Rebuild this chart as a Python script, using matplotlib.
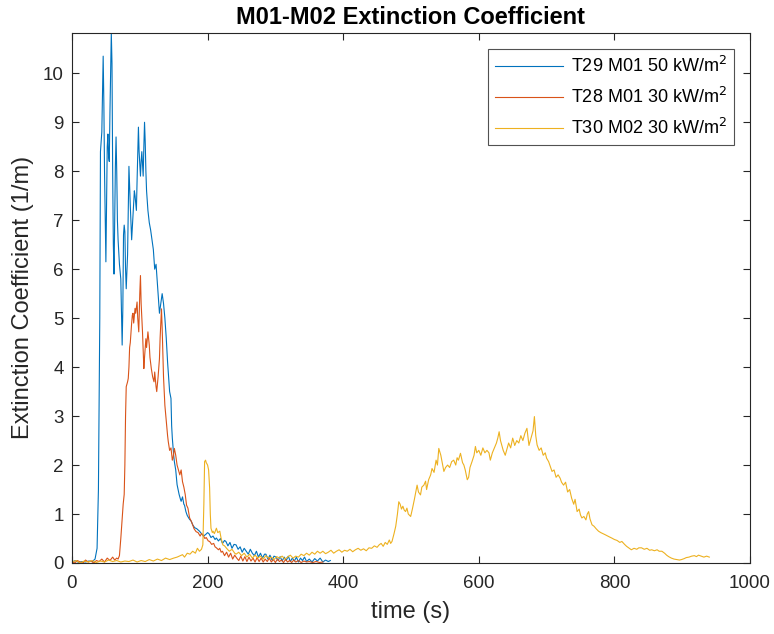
import matplotlib
matplotlib.use("Agg")
import matplotlib.pyplot as plt

plt.rcParams['font.family'] = ['Liberation Sans', 'DejaVu Sans']

# T29 M01 50 kW/m2
t29_time = [0, 5, 10, 15, 20, 25, 30, 34, 37, 39, 41, 42, 43, 44, 46, 47, 48, 49, 50, 51,
            52, 53, 54, 55, 56, 58, 59, 60, 61, 62, 63, 64, 65, 66, 67, 68, 70, 72, 74, 75,
            76, 77, 78, 79, 80, 82, 84, 86, 88, 90, 92, 93, 95, 96, 98, 99, 101, 102, 103, 105,
            106, 107, 108, 109, 110, 112, 114, 116, 118, 120, 122, 124, 126, 127, 129, 131, 133, 135, 137, 139,
            141, 144, 146, 147, 148, 150, 151, 153, 155, 156, 158, 160, 161, 163, 165, 166, 168, 170, 173, 176,
            178, 181, 184, 188, 191, 194, 197, 200, 202, 205, 208, 211, 213, 216, 219, 222, 225, 227, 230, 233,
            236, 239, 242, 245, 248, 251, 254, 257, 260, 263, 266, 269, 272, 275, 278, 281, 284, 286, 289, 292,
            295, 298, 301, 304, 307, 310, 313, 316, 319, 322, 325, 328, 331, 334, 337, 340, 343, 346, 350, 354,
            358, 362, 366, 370, 374, 378, 381]
t29_ext = [0.02, 0.05, 0.01, 0.03, 0.02, 0.04, 0.03, 0.08, 0.3, 1.5, 5.0, 8.4, 8.6, 8.8, 10.35, 9.4, 8.0, 7.0, 6.15, 7.4,
           8.5, 8.76, 8.3, 8.2, 9.2, 10.83, 10.2, 8.0, 6.5, 5.9, 7.0, 8.1, 8.7, 8.0, 7.0, 6.6, 6.1, 5.8, 4.45, 5.2,
           6.7, 6.9, 6.76, 6.0, 5.6, 6.3, 8.1, 7.3, 6.6, 7.1, 7.6, 7.5, 7.2, 7.8, 8.9, 8.4, 7.9, 8.2, 8.4, 7.9,
           8.5, 9.0, 8.6, 8.0, 7.6, 7.2, 6.95, 6.8, 6.6, 6.4, 6.0, 6.1, 5.7, 5.5, 5.1, 5.3, 5.5, 5.3, 5.0, 4.6,
           4.1, 3.5, 3.36, 2.8, 2.55, 2.2, 2.07, 1.9, 1.6, 1.53, 1.4, 1.3, 1.26, 1.35, 1.2, 1.18, 1.05, 0.97, 0.9, 0.85,
           0.78, 0.72, 0.7, 0.65, 0.6, 0.55, 0.58, 0.62, 0.6, 0.52, 0.55, 0.48, 0.51, 0.45, 0.5, 0.4, 0.46, 0.44, 0.35, 0.42,
           0.3, 0.38, 0.37, 0.28, 0.33, 0.22, 0.3, 0.24, 0.18, 0.28, 0.2, 0.15, 0.24, 0.12, 0.2, 0.1, 0.18, 0.18, 0.08, 0.16,
           0.06, 0.14, 0.12, 0.05, 0.13, 0.04, 0.12, 0.05, 0.14, 0.03, 0.1, 0.04, 0.12, 0.02, 0.1, 0.05, 0.12, 0.03, 0.08, 0.02,
           0.09, 0.04, 0.1, 0.02, 0.06, 0.03, 0.05]

# T28 M01 30 kW/m2
t28_time = [0, 4, 8, 12, 16, 20, 24, 28, 32, 36, 40, 44, 48, 52, 56, 60, 63, 66, 68, 70,
            72, 74, 75.5, 77, 78, 79, 80, 82, 83, 84, 85, 86, 88, 89, 90, 91, 93, 94, 96, 97,
            98.5, 100, 101, 102, 104, 106, 107, 109, 110, 112, 114, 115, 117, 119, 121, 122, 124, 125, 127, 129,
            130, 132, 133, 135, 137, 139, 141, 142, 144, 146, 148, 149, 151, 153, 155, 157, 159, 161, 163, 165,
            167, 169, 171, 173.5, 176, 178, 180, 183, 186, 189, 191, 193, 196, 198, 201, 203, 206, 209, 211, 213,
            216, 218, 220, 222, 225, 228, 231, 234, 237, 240, 243, 246, 249, 252, 255, 258, 261, 264, 267, 270,
            273, 276, 279, 282, 285, 288, 291, 294, 297, 300, 303, 306, 309, 312, 315, 318, 321, 324, 327, 330,
            334, 338, 342, 346, 350, 355, 360, 365, 370]
t28_ext = [0.03, 0.0, 0.05, 0.02, 0.0, 0.06, 0.02, 0.04, 0.0, 0.05, 0.03, 0.08, 0.02, 0.1, 0.05, 0.12, 0.06, 0.1, 0.08, 0.15,
           0.5, 0.9, 1.2, 1.4, 2.0, 3.0, 3.6, 3.7, 3.77, 4.0, 4.4, 4.5, 4.9, 5.06, 5.1, 4.9, 5.2, 5.1, 5.33, 5.0,
           4.72, 5.5, 5.87, 5.3, 4.72, 3.97, 4.2, 4.58, 4.4, 4.72, 4.45, 4.2, 3.97, 3.8, 3.7, 3.9, 3.6, 3.5, 3.8, 4.17,
           4.6, 5.19, 4.8, 3.8, 3.22, 2.9, 2.6, 2.48, 2.3, 2.35, 2.1, 2.14, 2.34, 2.2, 2.0, 1.9, 1.8, 1.9, 1.66, 1.55,
           1.4, 1.18, 1.12, 0.92, 0.85, 0.78, 0.7, 0.64, 0.62, 0.55, 0.6, 0.58, 0.5, 0.52, 0.45, 0.44, 0.38, 0.4, 0.33, 0.31,
           0.27, 0.3, 0.22, 0.24, 0.15, 0.22, 0.12, 0.2, 0.08, 0.16, 0.1, 0.05, 0.14, 0.04, 0.13, 0.03, 0.12, 0.04, 0.1, 0.02,
           0.11, 0.03, 0.1, 0.02, 0.08, 0.03, 0.1, 0.02, 0.07, 0.01, 0.08, 0.03, 0.06, 0.01, 0.07, 0.02, 0.05, 0.01, 0.06, 0.02,
           0.05, 0.01, 0.04, 0.02, 0.03, 0.01, 0.03, 0.01, 0.02]

# T30 M02 30 kW/m2
t30_time = [0, 6, 12, 18, 24, 30, 36, 42, 48, 54, 60, 66, 72, 78, 84, 90, 96, 102, 108, 114,
            120, 126, 132, 138, 144, 150, 155, 160, 163, 166, 170, 174, 178, 182, 185, 188, 191, 193, 194.5, 195.6,
            197, 198, 200, 201.5, 203, 204, 205, 207, 208, 210, 213, 215, 218, 220, 222.5, 225, 228, 232, 236, 240,
            242, 246, 250, 254, 258, 262, 266, 270, 274, 278, 282, 286, 290, 294, 298, 302, 306, 310, 314, 318,
            322, 326, 330, 334, 338, 342, 346, 350, 354, 358, 362, 366, 370, 374, 378, 382, 386, 390, 394, 398,
            402, 406, 410, 414, 418, 422, 426, 430, 434, 438, 442, 446, 450, 453, 456, 459, 462, 465, 468, 470,
            472, 475, 477.5, 480, 482, 484, 486, 488, 490, 492, 494, 496, 499.5, 502, 505, 507, 509, 511, 514, 516,
            519, 521.5, 523, 526, 529, 531, 534, 537, 539, 541, 543, 544, 546, 548.5, 551, 554, 557, 560, 563, 566,
            568, 570, 573, 576, 578, 580, 583, 585, 587, 590, 593, 595, 597, 600, 603, 606, 609, 612, 615, 617,
            620, 623, 626, 628, 630, 632, 634, 636, 639, 641, 644, 647, 650, 653, 656, 659, 662, 665, 668, 671,
            674, 677, 680, 682, 684, 686, 689, 692, 695, 698, 700, 703, 706, 708, 711, 714, 717, 720, 722, 725,
            728, 731, 734, 737, 740, 742, 745, 748, 750, 752, 755, 758, 760, 762, 764, 767, 770, 773, 776.5, 780,
            783, 786, 790, 793, 796, 800, 804, 808, 811, 815, 818, 822, 825, 829, 833, 836, 840, 844, 848, 852,
            855, 859, 863, 866, 870, 874, 877, 880, 884, 888, 892, 896, 899, 903, 906, 910, 914, 918, 921, 924,
            928, 932, 936, 940]
t30_ext = [0.02, 0.05, 0.0, 0.04, 0.02, 0.05, 0.01, 0.04, 0.02, 0.06, 0.03, 0.05, 0.02, 0.04, 0.03, 0.06, 0.02, 0.05, 0.03, 0.07,
           0.04, 0.08, 0.05, 0.1, 0.07, 0.1, 0.12, 0.15, 0.17, 0.12, 0.2, 0.18, 0.24, 0.2, 0.3, 0.24, 0.28, 0.37, 1.2, 2.07,
           2.1, 2.05, 2.0, 1.9, 1.53, 1.0, 0.71, 0.62, 0.65, 0.6, 0.71, 0.62, 0.65, 0.5, 0.37, 0.35, 0.3, 0.24, 0.28, 0.2,
           0.18, 0.22, 0.15, 0.2, 0.12, 0.18, 0.1, 0.16, 0.1, 0.14, 0.08, 0.15, 0.1, 0.12, 0.07, 0.13, 0.1, 0.14, 0.08, 0.12,
           0.16, 0.1, 0.14, 0.12, 0.18, 0.15, 0.2, 0.16, 0.22, 0.18, 0.24, 0.2, 0.24, 0.19, 0.22, 0.26, 0.2, 0.24, 0.27, 0.22,
           0.26, 0.24, 0.28, 0.23, 0.27, 0.3, 0.26, 0.29, 0.25, 0.31, 0.3, 0.35, 0.32, 0.37, 0.4, 0.34, 0.42, 0.38, 0.47, 0.4,
           0.44, 0.6, 0.75, 1.0, 1.25, 1.2, 1.1, 1.16, 1.08, 1.05, 1.12, 1.0, 0.95, 1.1, 1.3, 1.45, 1.59, 1.45, 1.39, 1.55,
           1.59, 1.67, 1.5, 1.7, 1.8, 1.93, 1.85, 2.1, 2.0, 2.34, 2.25, 2.2, 2.05, 1.87, 1.95, 2.0, 1.95, 2.07, 2.1, 2.0,
           2.15, 2.1, 2.24, 2.05, 2.0, 1.9, 1.7, 1.75, 1.95, 2.07, 2.2, 2.38, 2.25, 2.3, 2.2, 2.35, 2.25, 2.3, 2.25, 2.1,
           2.25, 2.35, 2.45, 2.55, 2.68, 2.5, 2.4, 2.3, 2.2, 2.3, 2.45, 2.35, 2.55, 2.4, 2.5, 2.45, 2.6, 2.5, 2.65, 2.75,
           2.4, 2.55, 2.7, 2.99, 2.6, 2.41, 2.3, 2.35, 2.2, 2.25, 2.14, 2.07, 1.95, 1.87, 1.9, 1.75, 1.8, 1.73, 1.65, 1.59,
           1.65, 1.45, 1.5, 1.32, 1.2, 1.3, 1.05, 1.1, 0.98, 0.92, 0.95, 0.88, 1.0, 1.05, 0.9, 0.78, 0.75, 0.7, 0.65, 0.62,
           0.6, 0.58, 0.55, 0.53, 0.51, 0.48, 0.46, 0.42, 0.44, 0.38, 0.34, 0.3, 0.27, 0.3, 0.28, 0.31, 0.31, 0.28, 0.3, 0.26,
           0.27, 0.25, 0.27, 0.24, 0.24, 0.2, 0.16, 0.13, 0.1, 0.08, 0.07, 0.06, 0.07, 0.09, 0.11, 0.12, 0.14, 0.15, 0.13, 0.16,
           0.14, 0.12, 0.14, 0.12]

series_labels = ['T29 M01 50 kW/m$^2$', 'T28 M01 30 kW/m$^2$', 'T30 M02 30 kW/m$^2$']
series_colors = ['#0072BD', '#D95319', '#EDB120']

x_limits = (0, 1000)
y_limits = (0, 10.83)
x_ticks = [0, 200, 400, 600, 800, 1000]
y_ticks = list(range(0, 11))

fig = plt.figure(figsize=(7.74, 6.34), dpi=100)
ax = fig.add_axes([0.093, 0.112, 0.876, 0.8365])

for t, y, lab, col in zip([t29_time, t28_time, t30_time],
                          [t29_ext, t28_ext, t30_ext],
                          series_labels, series_colors):
    ax.plot(t, y, color=col, linewidth=0.8, label=lab)

ax.set_xlim(*x_limits)
ax.set_ylim(*y_limits)
ax.set_xticks(x_ticks)
ax.set_yticks(y_ticks)

axis_color = '#262626'
for sp in ax.spines.values():
    sp.set_color(axis_color)
    sp.set_linewidth(0.8)
ax.tick_params(direction='in', length=5, width=0.8, color=axis_color,
               labelcolor=axis_color, labelsize=13.5, top=True, right=True, pad=6)
ax.tick_params(axis='x', pad=9)

ax.set_xlabel('time (s)', fontsize=17, color=axis_color, labelpad=6)
ax.set_ylabel('Extinction Coefficient (1/m)', fontsize=17, color=axis_color, labelpad=6)
ax.set_title('M01-M02 Extinction Coefficient', fontsize=17, fontweight='bold', pad=6)

leg = ax.legend(loc='upper right', fontsize=13, frameon=True, fancybox=False,
                edgecolor=axis_color, handlelength=3.8, borderaxespad=0.9,
                labelspacing=0.6, handletextpad=0.4)
leg.get_frame().set_linewidth(0.8)

fig.savefig('out.png', dpi=100)
